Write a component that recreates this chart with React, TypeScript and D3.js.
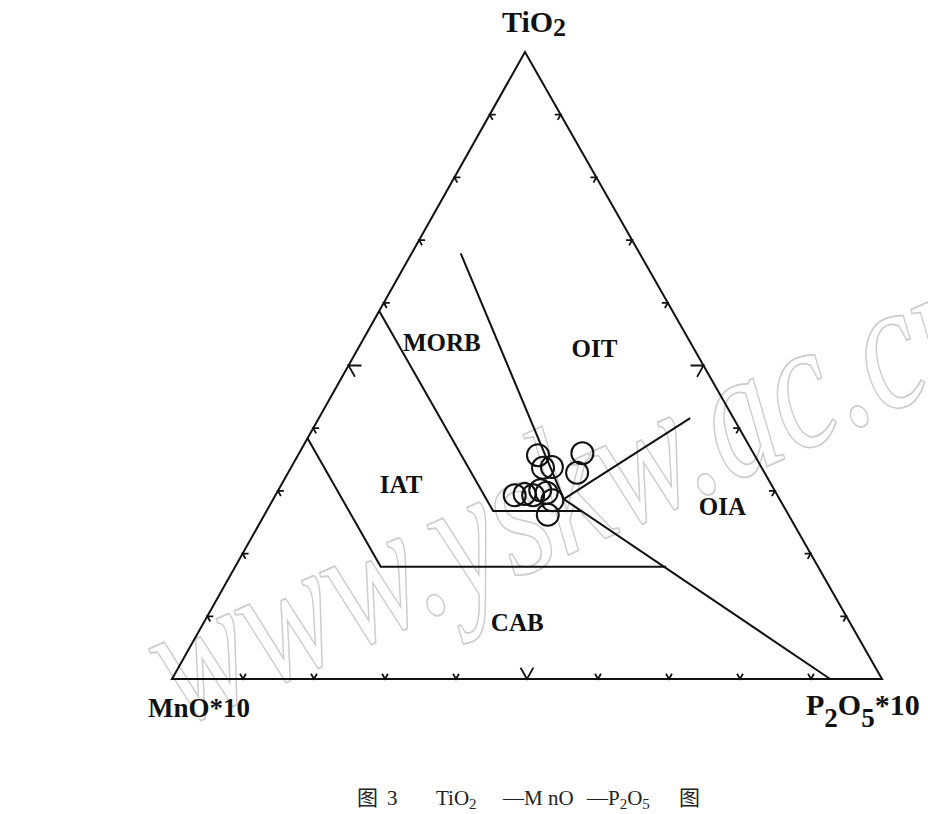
import React from "react";
import * as d3 from "d3";

// Ternary components: [TiO2, MnO*10, P2O5*10] as fractions of 1
type Tern = [number, number, number];

// Field boundaries of the TiO2–MnO–P2O5 discrimination diagram
const boundaryIatMorb: Tern[] = [
  [0.587, 0.413, 0.0],
  [0.268, 0.413, 0.319],
  [0.268, 0.288, 0.444],
];
const boundaryIatCab: Tern[] = [
  [0.384, 0.616, 0.0],
  [0.179, 0.616, 0.205],
  [0.179, 0.214, 0.607],
];
const boundaryMorbOit: Tern[] = [
  [0.679, 0.252, 0.069],
  [0.287, 0.304, 0.409],
];
const boundaryOitOia: Tern[] = [
  [0.416, 0.061, 0.523],
  [0.287, 0.304, 0.409],
];
const boundaryOiaCab: Tern[] = [
  [0.287, 0.304, 0.409],
  [0.0, 0.073, 0.927],
];
const boundaries = [
  boundaryIatMorb,
  boundaryIatCab,
  boundaryMorbOit,
  boundaryOitOia,
  boundaryOiaCab,
];

// Field names and where they sit
const fieldNames = ["MORB", "OIT", "IAT", "OIA", "CAB"];
const fieldPositions: Tern[] = [
  [0.523, 0.357, 0.12],
  [0.513, 0.147, 0.34],
  [0.297, 0.528, 0.175],
  [0.262, 0.093, 0.645],
  [0.077, 0.475, 0.448],
];

// Samples
const samples: Tern[] = [
  [0.357, 0.305, 0.338],
  [0.338, 0.295, 0.367],
  [0.337, 0.308, 0.355],
  [0.36, 0.241, 0.399],
  [0.329, 0.264, 0.407],
  [0.293, 0.37, 0.337],
  [0.295, 0.355, 0.35],
  [0.293, 0.344, 0.363],
  [0.301, 0.33, 0.369],
  [0.297, 0.323, 0.38],
  [0.285, 0.321, 0.394],
  [0.262, 0.339, 0.399],
];

// Tick fractions along each side
const tickFractions = [0.1, 0.2, 0.3, 0.4, 0.5, 0.6, 0.7, 0.8, 0.9];

const apex: [number, number] = [525, 52];
const left: [number, number] = [172, 679];
const right: [number, number] = [882, 679];

// Height follows the TiO2 share, the base follows the P2O5 share
const yT = d3.scaleLinear().domain([0, 1]).range([left[1], apex[1]]);
const xP = d3.scaleLinear().domain([0, 1]).range([left[0], right[0]]);

function project([t, , p]: Tern): [number, number] {
  return [xP(p) + t * (apex[0] - left[0]), yT(t)];
}

function unit(a: [number, number], b: [number, number]): [number, number] {
  const dx = b[0] - a[0];
  const dy = b[1] - a[1];
  const l = Math.hypot(dx, dy);
  return [dx / l, dy / l];
}

const line = d3
  .line<Tern>()
  .x((d) => project(d)[0])
  .y((d) => project(d)[1]);

export default function App() {
  const serif = "'Liberation Serif', 'DejaVu Serif', serif";
  const cjk = "'Noto Sans CJK SC', sans-serif";

  // arrow-head ticks: two arms running into the triangle along the grid
  const sides: { at: (f: number) => Tern; dirs: [number, number][] }[] = [
    { at: (f) => [0, 1 - f, f], dirs: [unit(right, apex), unit(left, apex)] },
    { at: (f) => [f, 1 - f, 0], dirs: [unit(left, right), unit(apex, right)] },
    { at: (f) => [f, 0, 1 - f], dirs: [unit(right, left), unit(apex, left)] },
  ];
  const ticks: string[] = [];
  sides.forEach((s) =>
    tickFractions.forEach((f) => {
      const [x, y] = project(s.at(f));
      const len = Math.abs(f - 0.5) < 1e-6 ? 13 : 6;
      const [a, b] = s.dirs;
      ticks.push(
        `M${x + a[0] * len},${y + a[1] * len}L${x},${y}L${x + b[0] * len},${y + b[1] * len}`
      );
    })
  );

  const tri = d3.path();
  tri.moveTo(...apex);
  tri.lineTo(...left);
  tri.lineTo(...right);
  tri.closePath();

  return (
    <svg
      width={928}
      height={814}
      viewBox="0 0 928 814"
      style={{ display: "block", position: "absolute", left: 0, top: 0 }}
    >
      <rect x={0} y={0} width={928} height={814} fill="#fff" />

      {/* site mark */}
      <text
        x={0}
        y={0}
        transform="translate(180,728) rotate(-24)"
        fontFamily={serif}
        fontStyle="italic"
        fontSize={185}
        fill="none"
        stroke="#cdcdcd"
        strokeWidth={1.8}
        textLength={900}
        lengthAdjust="spacingAndGlyphs"
      >
        www.yskw.ac.cn
      </text>

      <path d={tri.toString()} fill="none" stroke="#111" strokeWidth={2} />
      <path d={ticks.join("")} fill="none" stroke="#111" strokeWidth={1.8} />

      {boundaries.map((b, i) => (
        <path key={i} d={line(b) || ""} fill="none" stroke="#111" strokeWidth={2} />
      ))}

      {samples.map((s, i) => {
        const [x, y] = project(s);
        return <circle key={i} cx={x} cy={y} r={11} fill="none" stroke="#111" strokeWidth={2} />;
      })}

      {fieldNames.map((n, i) => {
        const [x, y] = project(fieldPositions[i]);
        return (
          <text
            key={n}
            x={x}
            y={y}
            textAnchor="middle"
            fontFamily={serif}
            fontWeight="bold"
            fontSize={25}
            fill="#111"
          >
            {n}
          </text>
        );
      })}

      {/* apex labels */}
      <text x={534} y={32} textAnchor="middle" fontFamily={serif} fontWeight="bold" fontSize={30} fill="#111">
        TiO
        <tspan fontSize={26} dy={4}>2</tspan>
      </text>
      <text x={148} y={717} fontFamily={serif} fontWeight="bold" fontSize={27} fill="#111">
        MnO*10
      </text>
      <text x={806} y={715} fontFamily={serif} fontWeight="bold" fontSize={30} fill="#111">
        P<tspan dy={12} fontSize={27}>2</tspan>
        <tspan dy={-12}>O</tspan>
        <tspan dy={12} fontSize={27}>5</tspan>
        <tspan dy={-12}>*10</tspan>
      </text>

      {/* caption */}
      <g fontFamily={serif} fontSize={21} fill="#222">
        <text x={357} y={805} fontFamily={cjk}>图</text>
        <text x={387} y={805}>3</text>
        <text x={436} y={805}>
          TiO<tspan fontSize={15} dy={4}>2</tspan>
        </text>
        <text x={503} y={805}>—M nO</text>
        <text x={587} y={805}>
          —P<tspan fontSize={15} dy={4}>2</tspan>
          <tspan dy={-4}>O</tspan>
          <tspan fontSize={15} dy={4}>5</tspan>
        </text>
        <text x={679} y={805} fontFamily={cjk}>图</text>
      </g>
    </svg>
  );
}
